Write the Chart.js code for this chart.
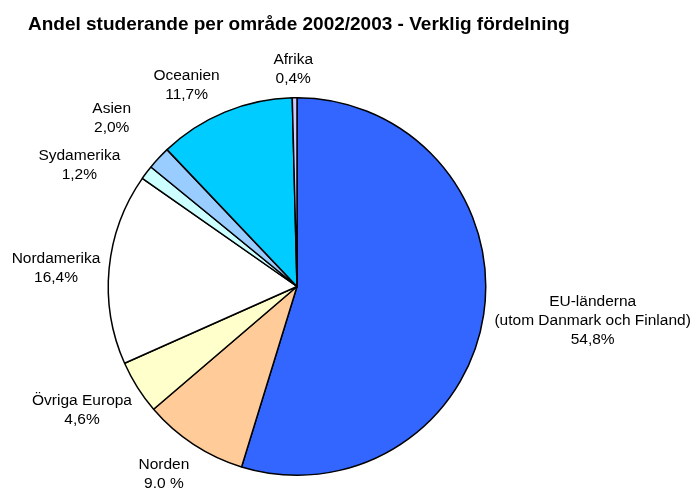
<!DOCTYPE html>
<html>
<head>
<meta charset="utf-8">
<script src="https://cdn.jsdelivr.net/npm/chart.js@4"></script>
<style>
    body { margin: 0; background: #fff; }
    #chart { display: block; }
</style>
</head>
<body>
<canvas id="chart" width="699" height="490"></canvas>
<script>
// Data
const regions = [
    ['EU-länderna', '(utom Danmark och Finland)'],
    ['Norden'],
    ['Övriga Europa'],
    ['Nordamerika'],
    ['Sydamerika'],
    ['Asien'],
    ['Oceanien'],
    ['Afrika']
];
const shares = [54.8, 9.0, 4.6, 16.4, 1.2, 2.0, 11.7, 0.4];
const shareLabels = ['54,8%', '9.0 %', '4,6%', '16,4%', '1,2%', '2,0%', '11,7%', '0,4%'];
const sliceColors = ['#3366FF', '#FFCC99', '#FFFFCC', '#FFFFFF', '#CCFFFF', '#99CCFF', '#00CCFF', '#CCCCFF'];

// small nudges so labels don't collide (like Excel does)
const labelShift = [[0, 0], [-9, 4], [-3, 6], [3, 3], [-25, 11], [-24, -19], [-21, 2], [-1, 2]];

const FONT = '"Liberation Sans", Arial, sans-serif';
const LINE_H = 19;

// Draws title and the outside labels
const outsideLabels = {
    id: 'outsideLabels',
    afterDraw(chart) {
        const ctx = chart.ctx;
        ctx.save();
        ctx.fillStyle = '#000';

        ctx.font = 'bold 19px ' + FONT;
        ctx.textAlign = 'left';
        ctx.textBaseline = 'alphabetic';
        ctx.fillText('Andel studerande per område 2002/2003 - Verklig fördelning', 28, 30);

        ctx.font = '15.5px ' + FONT;
        ctx.textAlign = 'center';
        ctx.textBaseline = 'middle';
        const arcs = chart.getDatasetMeta(0).data;
        arcs.forEach((arc, i) => {
            const p = arc.getProps(['x', 'y', 'startAngle', 'endAngle', 'outerRadius'], true);
            const mid = (p.startAngle + p.endAngle) / 2;
            const dx = Math.cos(mid), dy = Math.sin(mid);
            const lines = regions[i].concat([shareLabels[i]]);
            const w = Math.max(...lines.map(t => ctx.measureText(t).width));
            const h = lines.length * LINE_H;
            const R = p.outerRadius + 12;
            const cx = p.x + dx * R + dx * w / 2 + labelShift[i][0];
            const cy = p.y + dy * R + dy * h / 2 + labelShift[i][1];
            lines.forEach((t, k) => {
                ctx.fillText(t, cx, cy + (k - (lines.length - 1) / 2) * LINE_H);
            });
        });
        ctx.restore();
    }
};

new Chart(document.getElementById('chart'), {
    type: 'pie',
    data: {
        labels: regions.map(r => r.join(' ')),
        datasets: [{
            data: shares,
            backgroundColor: sliceColors,
            borderColor: '#000',
            borderWidth: 1.5
        }]
    },
    options: {
        responsive: false,
        animation: false,
        layout: {
            padding: { left: 107, right: 212, top: 97, bottom: 14 }
        },
        plugins: {
            legend: { display: false },
            tooltip: { enabled: false },
            title: { display: false }
        }
    },
    plugins: [outsideLabels]
});
</script>
</body>
</html>
